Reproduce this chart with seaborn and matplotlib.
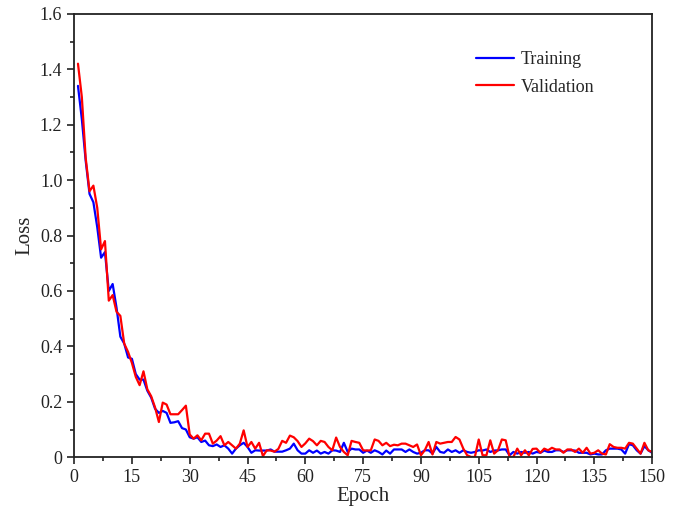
import numpy as np
import pandas as pd
import matplotlib
matplotlib.use("Agg")
import matplotlib.pyplot as plt
import seaborn as sns
from matplotlib.ticker import MultipleLocator, AutoMinorLocator, FuncFormatter

# Loss values, epoch 1..150
train_loss = [
    1.34, 1.22, 1.07, 0.95, 0.92, 0.83, 0.72, 0.74, 0.60, 0.625,
    0.54, 0.435, 0.41, 0.36, 0.355, 0.30, 0.28, 0.28, 0.24, 0.215,
    0.175, 0.16, 0.167, 0.16, 0.124, 0.126, 0.13, 0.105, 0.10, 0.072,
    0.067, 0.072, 0.055, 0.06, 0.043, 0.04, 0.046, 0.037, 0.043, 0.031,
    0.013, 0.031, 0.043, 0.052, 0.037, 0.016, 0.025, 0.024, 0.024, 0.024,
    0.028, 0.02, 0.02, 0.02, 0.025, 0.031, 0.049, 0.025, 0.013, 0.013,
    0.025, 0.016, 0.024, 0.013, 0.019, 0.013, 0.025, 0.024, 0.019, 0.052,
    0.019, 0.031, 0.028, 0.028, 0.016, 0.024, 0.016, 0.025, 0.019, 0.01,
    0.024, 0.013, 0.028, 0.028, 0.028, 0.019, 0.028, 0.019, 0.013, 0.016,
    0.025, 0.025, 0.013, 0.037, 0.019, 0.016, 0.028, 0.019, 0.025, 0.016,
    0.025, 0.019, 0.016, 0.019, 0.025, 0.024, 0.028, 0.019, 0.024, 0.025,
    0.028, 0.028, 0.007, 0.019, 0.013, 0.019, 0.016, 0.019, 0.013, 0.019,
    0.016, 0.024, 0.019, 0.019, 0.025, 0.025, 0.019, 0.025, 0.025, 0.024,
    0.016, 0.016, 0.016, 0.01, 0.013, 0.01, 0.01, 0.025, 0.031, 0.031,
    0.031, 0.028, 0.013, 0.047, 0.043, 0.025, 0.013, 0.04, 0.025, 0.016,
]
val_loss = [
    1.42, 1.30, 1.08, 0.96, 0.98, 0.90, 0.75, 0.78, 0.565, 0.585,
    0.525, 0.51, 0.41, 0.38, 0.34, 0.29, 0.26, 0.31, 0.245, 0.22,
    0.18, 0.127, 0.197, 0.19, 0.155, 0.155, 0.155, 0.17, 0.186, 0.082,
    0.067, 0.079, 0.061, 0.085, 0.085, 0.049, 0.06, 0.076, 0.043, 0.055,
    0.043, 0.031, 0.049, 0.097, 0.037, 0.055, 0.031, 0.052, 0.004, 0.025,
    0.024, 0.02, 0.03, 0.059, 0.052, 0.078, 0.072, 0.058, 0.037, 0.05,
    0.067, 0.058, 0.043, 0.059, 0.055, 0.037, 0.025, 0.071, 0.037, 0.019,
    0.007, 0.059, 0.055, 0.052, 0.025, 0.024, 0.025, 0.064, 0.059, 0.043,
    0.052, 0.04, 0.045, 0.043, 0.049, 0.049, 0.043, 0.037, 0.046, 0.007,
    0.025, 0.055, 0.01, 0.055, 0.049, 0.052, 0.055, 0.055, 0.073, 0.064,
    0.031, 0.007, 0.001, 0.001, 0.064, 0.007, 0.007, 0.061, 0.013, 0.025,
    0.064, 0.061, 0.001, 0.001, 0.031, 0.007, 0.025, 0.007, 0.03, 0.031,
    0.016, 0.031, 0.025, 0.034, 0.028, 0.028, 0.016, 0.028, 0.028, 0.019,
    0.031, 0.016, 0.034, 0.013, 0.016, 0.025, 0.013, 0.01, 0.047, 0.037,
    0.034, 0.034, 0.031, 0.052, 0.049, 0.031, 0.013, 0.052, 0.025, 0.019,
]
epochs = list(range(1, len(train_loss) + 1))
series_names = ["Training", "Validation"]

df = pd.DataFrame({
    "Epoch": epochs * 2,
    "Loss": train_loss + val_loss,
    "Series": [series_names[0]] * len(epochs) + [series_names[1]] * len(epochs),
})

sns.set_style("white")
plt.rcParams["font.family"] = ["Liberation Serif", "DejaVu Serif"]

fig, ax = plt.subplots(figsize=(6.8, 5.12), dpi=100)
fig.subplots_adjust(left=0.109, right=0.959, top=0.973, bottom=0.107)

sns.lineplot(data=df, x="Epoch", y="Loss", hue="Series",
             palette={"Training": "#0000ff", "Validation": "#ff0000"},
             linewidth=1.6, ax=ax)

ax.set_xlim(0, 150)
ax.set_ylim(0, 1.6)
ax.xaxis.set_major_locator(MultipleLocator(15))
ax.yaxis.set_major_locator(MultipleLocator(0.2))
ax.xaxis.set_minor_locator(AutoMinorLocator(2))
ax.yaxis.set_minor_locator(AutoMinorLocator(2))
ax.yaxis.set_major_formatter(FuncFormatter(lambda v, p: "0" if abs(v) < 1e-9 else f"{v:.1f}"))

ax.tick_params(which="major", direction="out", length=5, width=1.2,
               labelsize=13, left=True, bottom=True, top=False, right=False, colors="#222222")
ax.tick_params(which="minor", direction="out", length=3, width=1.2,
               left=True, bottom=True, top=False, right=False, colors="#222222")
for sp in ax.spines.values():
    sp.set_visible(True)
    sp.set_color("#222222")
    sp.set_linewidth(1.3)

ax.set_xlabel("Epoch", fontsize=15, labelpad=1)
ax.set_ylabel("Loss", fontsize=15, labelpad=4)

leg = ax.legend(loc="upper left", bbox_to_anchor=(0.667, 0.953), frameon=False,
                fontsize=13, handlelength=2.1, handletextpad=0.4, labelspacing=0.6)
leg.set_title(None)

fig.savefig("out.png", dpi=100)
